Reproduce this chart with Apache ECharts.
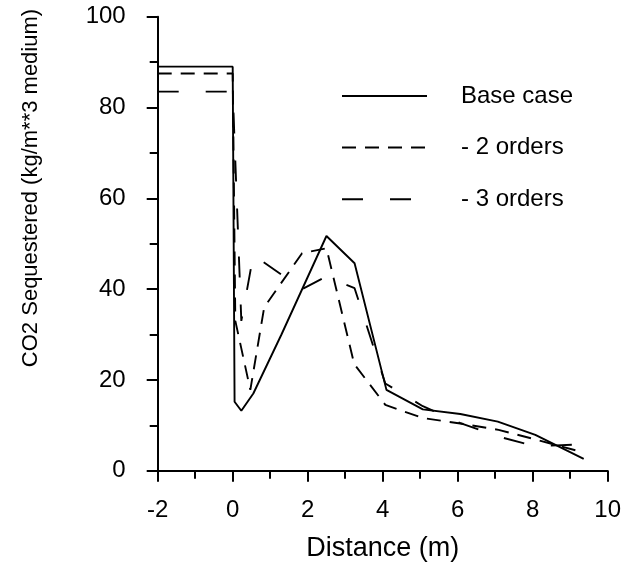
<!DOCTYPE html>
<html>
<head>
<meta charset="utf-8">
<script src="https://cdn.jsdelivr.net/npm/echarts@6/dist/echarts.min.js"></script>
<style>
html,body{margin:0;padding:0;background:#fff;}
#chart{width:626px;height:565px;}
</style>
</head>
<body>
<div id="chart"></div>
<script>
const seriesNames = ['Base case', '- 2 orders', '- 3 orders'];
const baseCase = [[-2,89],[0,89],[0.05,15.2],[0.23,13.2],[0.55,17],[1.3,30],[2.5,51.7],[3.25,45.7],[4.1,17.8],[5.07,13.5],[6.07,12.5],[7.07,10.8],[8.07,7.9],[9.36,2.6]];
const twoOrders = [[-2,87.5],[0,87.5],[0.07,33],[0.47,17.8],[0.84,36],[1.85,47.9],[2.5,49],[3.24,23.5],[4.07,14.5],[5.07,11.6],[6.07,10.4],[7.09,9.0],[8.07,6.9],[9.36,4.0]];
const threeOrders = [[-2,83.5],[0,83.5],[0.23,33],[0.55,47.5],[1.85,40],[2.5,42.8],[3.25,40.2],[4.07,19.2],[5.07,14.2],[6.07,10.5],[7.09,7.5],[8.07,5.4],[9.36,5.8]];
const xAxisTitle = 'Distance (m)';
const yAxisTitle = 'CO2 Sequestered (kg/m**3 medium)';

const FONT = '"Liberation Sans", Arial, Helvetica, sans-serif';
const chart = echarts.init(document.getElementById('chart'), null, {renderer: 'canvas'});
const dashes = ['solid', [14, 9], [21, 27]];
const datasets = [baseCase, twoOrders, threeOrders];

chart.setOption({
  animation: false,
  backgroundColor: '#ffffff',
  grid: {left: 157.7, right: 18.3, top: 16.7, bottom: 94.3, containLabel: false, outerBoundsMode: 'none'},
  legend: {
    orient: 'vertical',
    left: 336,
    top: 79,
    itemWidth: 85,
    itemHeight: 26,
    itemGap: 27.6,
    data: seriesNames,
    itemStyle: {opacity: 0},
    textStyle: {fontFamily: FONT, fontSize: 24, color: '#000', padding: [0, 0, 0, 29]},
    selectedMode: false
  },
  xAxis: {
    type: 'value', min: -2, max: 10, interval: 2,
    name: xAxisTitle, nameLocation: 'middle', nameGap: 64,
    nameTextStyle: {fontFamily: FONT, fontSize: 27, color: '#000'},
    axisLine: {onZero: false, lineStyle: {color: '#000', width: 2}},
    axisTick: {show: true, inside: false, length: 11, lineStyle: {color: '#000', width: 2}},
    minorTick: {show: true, splitNumber: 2, length: 8, lineStyle: {color: '#000', width: 2}},
    axisLabel: {fontFamily: FONT, fontSize: 24, color: '#000', margin: 28},
    splitLine: {show: false}
  },
  yAxis: {
    type: 'value', min: 0, max: 100, interval: 20,
    axisLine: {show: true, onZero: false, lineStyle: {color: '#000', width: 2}},
    axisTick: {show: true, inside: false, length: 11, lineStyle: {color: '#000', width: 2}},
    minorTick: {show: true, splitNumber: 2, length: 8, lineStyle: {color: '#000', width: 2}},
    axisLabel: {fontFamily: FONT, fontSize: 24, color: '#000', margin: 32},
    splitLine: {show: false}
  },
  graphic: [{
    type: 'text',
    x: 31, y: 188,
    rotation: Math.PI / 2,
    style: {
      text: yAxisTitle,
      font: '22px ' + FONT,
      fill: '#000',
      align: 'center',
      verticalAlign: 'middle'
    }
  }],
  series: datasets.map((d, i) => ({
    name: seriesNames[i],
    type: 'line',
    data: d,
    showSymbol: false,
    symbol: 'none',
    color: '#000',
    lineStyle: {color: '#000', width: 1.9, type: dashes[i]}
  }))
});
</script>
</body>
</html>
